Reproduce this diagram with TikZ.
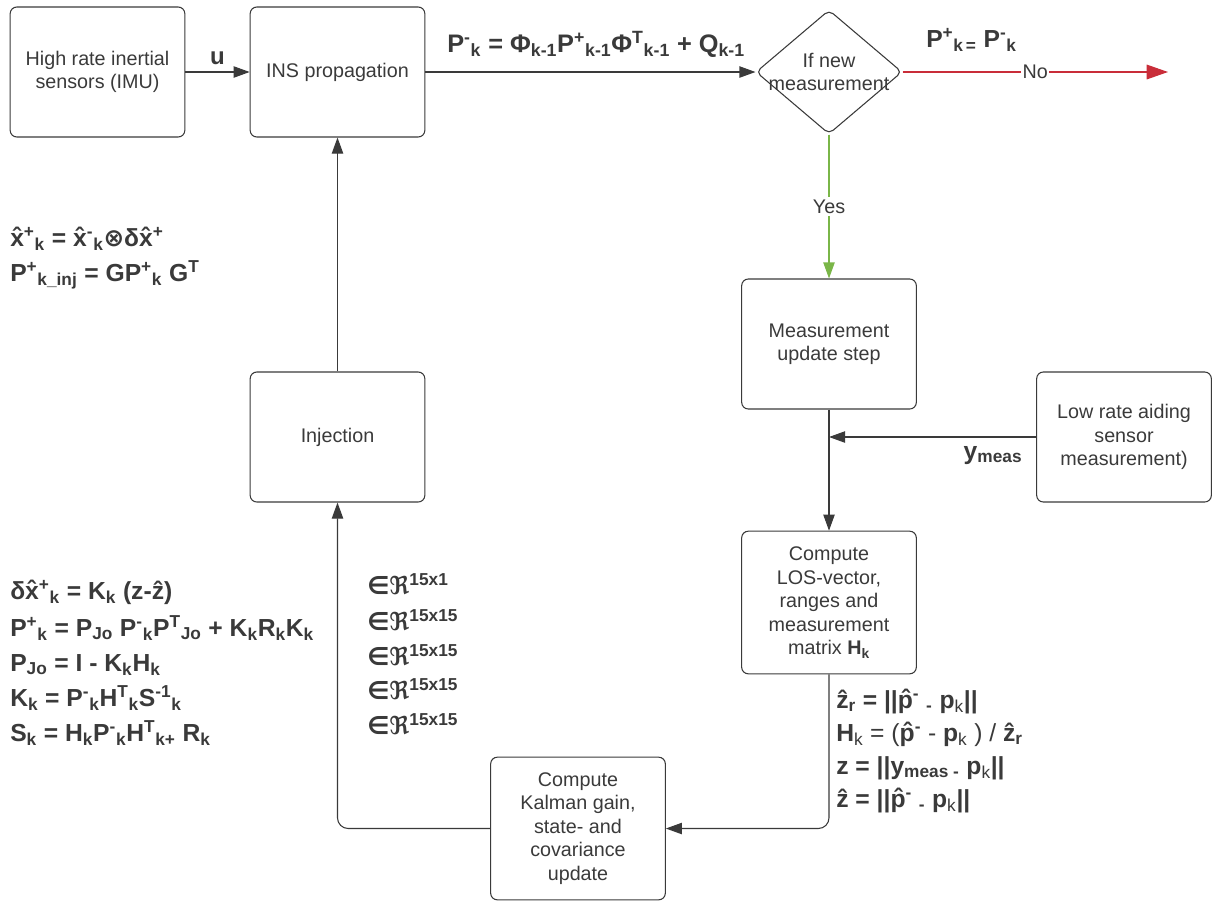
\documentclass[tikz,border=0pt]{standalone}
\usepackage{fontspec}
\setmainfont{Liberation Sans}
\newfontfamily\symfont{DejaVu Sans}
\usetikzlibrary{positioning, arrows.meta, shapes.geometric}
\definecolor{linegray}{HTML}{3A3A3A}
\definecolor{notred}{HTML}{C92D39}
\definecolor{yesgreen}{HTML}{7AB648}
\newcommand{\up}[1]{\textsuperscript{#1}}
\newcommand{\dn}[1]{\textsubscript{#1}}
\newcommand{\hx}{x̂}
\newcommand{\hp}{p̂}
\newcommand{\sym}[1]{{\symfont\bfseries #1}}

\begin{document}
\begin{tikzpicture}[x=0.75pt, y=-0.75pt,
    font=\fontsize{14.8}{17.6}\selectfont,
    every node/.style={text=linegray},
    block/.style={draw=linegray, line width=0.8pt, rounded corners=5pt,
      minimum width=131pt, minimum height=97.5pt, align=center},
    tallblock/.style={block, minimum height=107pt},
    decision/.style={diamond, draw=linegray, line width=0.8pt, rounded corners=4pt,
      minimum width=109.5pt, minimum height=93pt, inner sep=0pt},
    arr/.style={draw=linegray, line width=0.8pt, -{Triangle[length=12pt, width=8.5pt]}},
    eq/.style={anchor=base west, inner sep=0pt, font=\fontsize{18.5}{22}\selectfont\bfseries}]
  \useasboundingbox (0,0) rectangle (1213,901);

  % blocks
  \node[block] (imu) at (97.5,72) {High rate inertial\\sensors (IMU)};
  \node[block] (ins) at (337.5,72) {INS propagation};
  \node[decision, label={[align=center]center:If new\\measurement}] (check) at (829,72) {};
  \node[block] (update) at (829,344) {Measurement\\update step};
  \node[block] (aiding) at (1124,437) {Low rate aiding\\sensor\\measurement)};
  \node[tallblock] (los) at (829,602.5) {Compute\\LOS-vector,\\ranges and\\measurement\\matrix \textbf{H\dn{k}}};
  \node[tallblock] (kalman) at (578,828.5) {Compute\\Kalman gain,\\state- and\\covariance\\update};
  \node[block] (inject) at (337.5,437) {Injection};
  \coordinate (noend) at (1168,72);

  % connectors
  \draw[arr] (imu) -- (ins) node[midway, above=2pt, font=\fontsize{18}{20}\selectfont\bfseries] {u};
  \draw[arr] (ins) -- (check);
  \draw[arr, draw=notred, -{Triangle[length=16pt, width=11pt]}, fill=notred] (check) -- (noend)
    node[pos=0.5, fill=white, inner sep=1pt] {No};
  \draw[arr, draw=yesgreen, fill=yesgreen] (check) -- (update)
    node[midway, fill=white, inner sep=2pt] {Yes};
  \draw[arr] (update) -- (los);
  \draw[arr] (aiding.west) -- (aiding.west -| update.south);
  \draw[arr, rounded corners=8pt] (los.south) |- (kalman.east);
  \draw[arr, rounded corners=8pt] (kalman.west) -| (inject.south);
  \draw[arr] (inject) -- (ins);

  % equations
  \node[eq, font=\fontsize{19}{22}\selectfont\bfseries] (prop) at (447,52)
    {P\up{-}\dn{k} = Φ\dn{k-1}P\up{+}\dn{k-1}Φ\up{T}\dn{k-1} + Q\dn{k-1}};
  \node[eq] (keep) at (926,47) {P\up{+}\dn{k\,=} P\up{-}\dn{k}};
  \node[eq, anchor=base] (ymeas) at (993,459) {y\dn{meas}};

  \node[eq] (inj1) at (10,246) {\hx\up{+}\dn{k} = \hx\up{-}\dn{k}\sym{⊗}δ\hx\up{+}};
  \node[eq] (inj2) at (10,281) {P\up{+}\dn{k\_inj} = GP\up{+}\dn{k} G\up{T}};

  \node[eq] (kf1) at (10,599) {δ\hx\up{+}\dn{k} = K\dn{k} (z-ẑ)};
  \node[eq] (kf2) at (10,636) {P\up{+}\dn{k} = P\dn{Jo} P\up{-}\dn{k}P\up{T}\dn{Jo} + K\dn{k}R\dn{k}K\dn{k}};
  \node[eq] (kf3) at (10,671) {P\dn{Jo} = I - K\dn{k}H\dn{k}};
  \node[eq] (kf4) at (10,706) {K\dn{k} = P\up{-}\dn{k}H\up{T}\dn{k}S\up{-1}\dn{k}};
  \node[eq] (kf5) at (10,741) {S\dn{k} = H\dn{k}P\up{-}\dn{k}H\up{T}\dn{k+} R\dn{k}};

  \node[eq] (dim1) at (367,594) {\sym{∈ℜ}\up{15x1}};
  \node[eq] (dim2) at (367,630) {\sym{∈ℜ}\up{15x15}};
  \node[eq] (dim3) at (367,665) {\sym{∈ℜ}\up{15x15}};
  \node[eq] (dim4) at (367,699) {\sym{∈ℜ}\up{15x15}};
  \node[eq] (dim5) at (367,734) {\sym{∈ℜ}\up{15x15}};

  \node[eq] (los1) at (836,708) {ẑ\dn{r} = ||\hp\up{-} \dn{-} p\dn{\mdseries k}||};
  \node[eq] (los2) at (836,741) {H\dn{\mdseries k} \mdseries= (\textbf{\hp\up{-}} - \textbf{p}\dn{k} ) / \textbf{ẑ\dn{r}}};
  \node[eq] (los3) at (836,774) {z = ||y\dn{meas -} p\dn{\mdseries k}||};
  \node[eq] (los4) at (836,807) {ẑ = ||\hp\up{-} \dn{-} p\dn{\mdseries k}||};
\end{tikzpicture}
\end{document}
